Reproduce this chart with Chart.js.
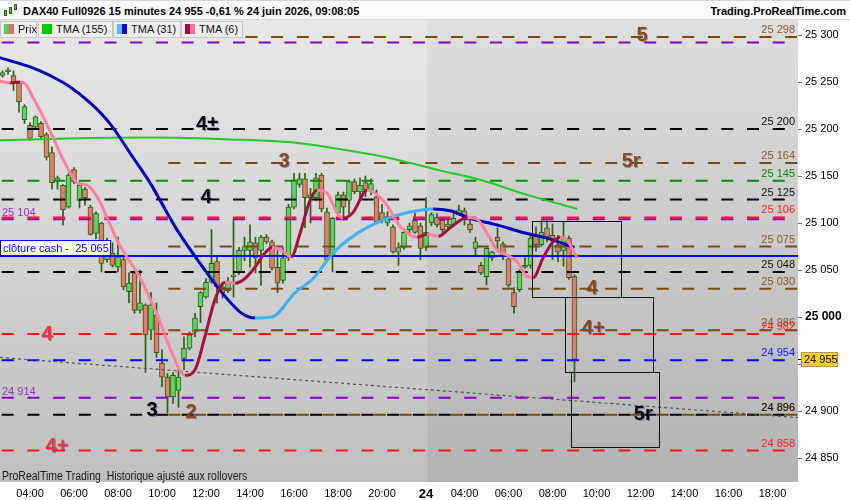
<!DOCTYPE html>
<html>
<head>
<meta charset="utf-8">
<script src="https://cdn.jsdelivr.net/npm/chart.js@4.4.1/dist/chart.umd.min.js"></script>
<style>
html, body { margin: 0; padding: 0; background: #fff; }
#wrap { position: relative; width: 850px; height: 500px; overflow: hidden; font-family: 'Liberation Sans', Arial, sans-serif; }
canvas { position: absolute; left: 0; top: 0; }
#head { position: absolute; left: 0; top: 0; width: 850px; height: 20px; background: #fbfbfb; border-top: 1px solid #d6d6d6; border-bottom: 1px solid #d6d6d6; box-sizing: border-box; }
#title { position: absolute; left: 23px; top: 2px; font-size: 11px; font-weight: bold; color: #000; line-height: 16px; white-space: pre; }
#site { position: absolute; right: 4px; top: 2px; font-size: 11px; font-weight: bold; color: #000; line-height: 16px; }
.ico { position: absolute; top: 5px; width: 3px; background: #4fc94f; border: 1px solid #2c5e14; box-sizing: border-box; }
.lg { position: absolute; top: 21px; height: 17px; box-sizing: border-box; border: 1px solid #c6c6c6; background: #eeeeee; font-size: 11px; line-height: 15px; color: #111; white-space: nowrap; }
.lg i { display: inline-block; width: 10px; height: 10px; margin: 0 4px 0 3px; vertical-align: -1px; }
#foot { position: absolute; left: 2px; top: 469px; font-size: 12px; color: #1a1a1a; white-space: pre; transform: scaleX(0.875); transform-origin: 0 0; }
</style>
</head>
<body>
<div id="wrap">
  <canvas id="chart" width="850" height="500"></canvas>
  <div id="head">
    <span class="ico" style="left:4px;top:9px;height:6px"></span>
    <span class="ico" style="left:9px;top:6px;height:7px"></span>
    <span class="ico" style="left:14px;top:3px;height:6px"></span>
    <span id="title">DAX40 Full0926 15 minutes 24 955 -0,61 % 24 juin 2026, 09:08:05</span>
    <span id="site">Trading.ProRealTime.com</span>
  </div>
  <div class="lg" style="left:0;width:37px"><i style="background:linear-gradient(90deg,#55cc55 50%,#e06a6a 50%)"></i>Prix</div>
  <div class="lg" style="left:38px;width:75px"><i style="background:#00cc00"></i>TMA (155)</div>
  <div class="lg" style="left:113px;width:68px"><i style="background:linear-gradient(90deg,#55bbff 50%,#0000cc 50%)"></i>TMA (31)</div>
  <div class="lg" style="left:181px;width:62px"><i style="background:linear-gradient(90deg,#99103a 50%,#ff6f99 50%)"></i>TMA (6)</div>
  <div id="foot">ProRealTime Trading  Historique ajusté aux rollovers</div>
</div>
<script>
// 15 min bars, index 0 = 23 juin 02:00, day 24 starts at bar 80
const firstBar = 3;
const opens = [
  25257, 25261, 25257, 25249, 25210, 25204, 25202, 25206, 25194, 25175,
  25145, 25140, 25117, 25157, 25124, 25136, 25117, 25089, 25100, 25061,
  25068, 25053, 25061, 25027, 25047, 25007, 25013, 24986, 25002, 24951,
  24936, 24915, 24922, 24956, 24967, 24984, 25011, 25021, 25037, 25059,
  25032, 25028, 25043, 25047, 25071, 25071, 25079, 25071, 25085, 25080,
  25053, 25039, 25063, 25117, 25141, 25147, 25127, 25127, 25151, 25112,
  25066, 25111, 25130, 25124, 25144, 25133, 25143, 25135, 25128, 25111,
  25100, 25096, 25069, 25074, 25093, 25103, 25097, 25074, 25100, 25106,
  25103, 25096, 25098, 25109, 25113, 25099, 25073, 25055, 25043, 25063,
  25085, 25078, 25062, 25026, 25029, 25053, 25055, 25087, 25077, 25095,
  25087, 25077, 25071, 25084, 25043
];
const highs = [
  25262, 25265, 25262, 25250, 25226, 25207, 25214, 25208, 25196, 25181,
  25150, 25141, 25153, 25159, 25143, 25138, 25119, 25112, 25101, 25084,
  25079, 25085, 25066, 25047, 25048, 25050, 25014, 25026, 25015, 24965,
  24940, 24941, 24947, 24979, 24984, 25004, 25027, 25041, 25093, 25064,
  25037, 25042, 25103, 25074, 25085, 25098, 25085, 25087, 25088, 25082,
  25074, 25074, 25120, 25153, 25153, 25153, 25137, 25153, 25153, 25116,
  25106, 25133, 25133, 25146, 25147, 25148, 25150, 25147, 25135, 25120,
  25112, 25098, 25079, 25092, 25100, 25111, 25100, 25127, 25111, 25110,
  25106, 25106, 25112, 25119, 25116, 25103, 25085, 25058, 25074, 25070,
  25095, 25080, 25063, 25031, 25050, 25063, 25087, 25096, 25103, 25103,
  25099, 25087, 25101, 25086, 25045
];
const lows = [
  25255, 25258, 25241, 25218, 25206, 25188, 25200, 25190, 25167, 25136,
  25136, 25098, 25116, 25142, 25116, 25119, 25087, 25083, 25048, 25058,
  25053, 25048, 25029, 25015, 25004, 25004, 24941, 24976, 24957, 24926,
  24898, 24908, 24904, 24944, 24965, 24979, 24994, 25020, 25036, 25015,
  25020, 25026, 25021, 25045, 25060, 25053, 25047, 25034, 25078, 25050,
  25026, 25036, 25060, 25115, 25138, 25095, 25100, 25124, 25112, 25059,
  25048, 25108, 25103, 25110, 25131, 25125, 25128, 25130, 25100, 25100,
  25097, 25068, 25055, 25072, 25089, 25089, 25061, 25071, 25097, 25096,
  25090, 25094, 25096, 25108, 25098, 25090, 25066, 25045, 25034, 25060,
  25071, 25061, 25032, 25004, 25027, 25052, 25052, 25070, 25075, 25080,
  25061, 25059, 25054, 25040, 24931
];
const closes = [
  25260, 25263, 25249, 25229, 25224, 25190, 25213, 25192, 25170, 25143,
  25148, 25114, 25151, 25144, 25140, 25127, 25088, 25110, 25057, 25077,
  25055, 25064, 25032, 25036, 25007, 25015, 24981, 25013, 24962, 24936,
  24915, 24938, 24936, 24967, 24981, 24999, 25026, 25037, 25057, 25032,
  25026, 25037, 25045, 25071, 25075, 25080, 25063, 25085, 25080, 25052,
  25036, 25063, 25117, 25146, 25147, 25127, 25130, 25148, 25115, 25061,
  25105, 25130, 25117, 25144, 25133, 25140, 25135, 25142, 25101, 25103,
  25107, 25069, 25074, 25090, 25097, 25090, 25073, 25090, 25109, 25098,
  25093, 25099, 25105, 25114, 25105, 25093, 25080, 25047, 25073, 25069,
  25081, 25064, 25034, 25011, 25049, 25055, 25084, 25077, 25090, 25085,
  25082, 25069, 25085, 25042, 24955
];

// moving averages (bar index, price)
const tma155Bars = [2.5, 14.7, 29.8, 44.4, 57, 64.9, 73.5, 82.5, 89.8, 98.4, 107.5];
const tma155 = [25188, 25190, 25191, 25189, 25185, 25178, 25169, 25156, 25146, 25130, 25115];
const tma31Bars = [2.5, 8.5, 11.6, 14.7, 18.9, 22.5, 26.7, 29.8, 34.7, 39.8, 42.9, 46.5, 48.9, 52,
  56.2, 59.5, 63.1, 67.5, 73.5, 78.4, 81.3, 84.4, 88, 92.9, 97.6, 102, 107];
const tma31 = [25276, 25265, 25257, 25247, 25228, 25206, 25170, 25143, 25093, 25050, 25026, 25004, 24999, 25000,
  25026, 25041, 25068, 25089, 25106, 25113, 25115, 25113, 25105, 25098, 25090, 25084, 25074];
const tma6Bars = [2.5, 4.4, 6.2, 7.3, 8.5, 10.4, 12.2, 13.5, 14.7, 16.5, 18.4, 20.2, 22, 23.8, 25.6, 27.5,
  29.3, 31.3, 33.8, 36.2, 38, 39.8, 41.6, 43.5, 45.3, 47.1, 48.9, 50.7, 52, 53.8, 55.5, 57.1, 58.9, 60.2,
  62, 63.8, 64.9, 66.7, 69.3, 70.4, 72.9, 74.7, 76.5, 78.4, 80.2, 82.3, 84.4, 87.5, 89.3, 91.6, 92.9,
  94.7, 96.5, 98.4, 99.5, 101.3, 103.1, 104.4, 105.6, 107.5];
const tma6 = [25251, 25249, 25250, 25247, 25234, 25213, 25191, 25174, 25160, 25143, 25140, 25128, 25106, 25082, 25064, 25047,
  25026, 25000, 24962, 24938, 24944, 24979, 25018, 25037, 25036, 25041, 25053, 25068, 25074, 25071, 25064, 25089, 25124, 25135,
  25132, 25111, 25105, 25111, 25135, 25133, 25119, 25101, 25090, 25085, 25088, 25086, 25095, 25106, 25104, 25084, 25071,
  25066, 25059, 25043, 25042, 25063, 25080, 25085, 25082, 25063];

// horizontal levels
const levelPrices = [25298, 25292, 25200, 25164, 25145, 25125, 25106, 25104, 25075, 25065,
  25048, 25030, 24986, 24982, 24954, 24914, 24896, 24896, 24858];
const levelKinds = ['brown', 'purple', 'black', 'brown', 'green', 'black', 'red', 'purple', 'brown', 'cash',
  'black', 'brown', 'brown', 'red', 'blue', 'purple', 'brown', 'black', 'red'];
const levelLabelSide = ['right', 'none', 'right', 'right', 'right', 'right', 'right', 'left', 'right', 'cash',
  'right', 'right', 'right', 'right', 'right', 'left', 'right', 'right', 'right'];
const cashText = 'clôture cash -  25 065';

// trend line end points (bar, price)
const trendBars = [2.55, 147.6];
const trendPrices = [24957, 24893];

// axis ticks
const xTickBars = [8, 16, 24, 32, 40, 48, 56, 64, 72, 80, 87, 95, 103, 111, 119, 127, 135, 143];
const xTickLabels = ['04:00', '06:00', '08:00', '10:00', '12:00', '14:00', '16:00', '18:00', '20:00', '24',
  '04:00', '06:00', '08:00', '10:00', '12:00', '14:00', '16:00', '18:00'];
const yTickValues = [24850, 24900, 24950, 25000, 25050, 25100, 25150, 25200, 25250, 25300];

// view
const xMin = 2.545, xMax = 147.64, yMin = 24824.5, yMax = 25316;
const dayBar = 80, daySplitBar = 80.2, brownStartBar = 33.15;
const FONT = "'Liberation Sans', Arial, sans-serif";

const lineColor = { brown: '#7b4a10', purple: '#8a00c8', black: '#000000', green: '#0a8a0a', red: '#ff1414', blue: '#0000ff', cash: '#0000ff' };
const textColor = { brown: '#8a5a26', purple: '#9a2ec4', black: '#111111', green: '#0a8a0a', red: '#ff2020', blue: '#1414ff', cash: '#0000ff' };

const bigLabels = [
  { t: '5', bar: 119.3, p: 25299, c: '#8b4a12' },
  { t: '4±', bar: 40.2, p: 25205, c: '#000' },
  { t: '4', bar: 40, p: 25127, c: '#000' },
  { t: '3', bar: 54.2, p: 25165, c: '#8b4a12' },
  { t: '5r', bar: 117.3, p: 25165, c: '#8b4a12' },
  { t: '4', bar: 11.1, p: 24981, c: '#ff3030' },
  { t: '4+', bar: 12.9, p: 24862, c: '#ff3030' },
  { t: '3', bar: 30.2, p: 24901, c: '#000' },
  { t: '2', bar: 37.3, p: 24898, c: '#8b4a12' },
  { t: '4', bar: 110.2, p: 25030, c: '#8b4a12' },
  { t: '4+', bar: 110.4, p: 24988, c: '#8b4a12' },
  { t: '5r', bar: 119.5, p: 24896, c: '#000' }
];
const zones = [
  { from: 99.3, to: 115.5, hi: 25102, lo: 25021 },
  { from: 105.3, to: 121.3, hi: 25021, lo: 24941 },
  { from: 106.4, to: 122.4, hi: 24941, lo: 24862 }
];

function fmt(v) {
  const r = Math.round(v);
  return Math.floor(r / 1000) + ' ' + String(r % 1000).padStart(3, '0');
}

const bars = opens.map((_, k) => firstBar + k);
const bodyData = bars.map((b, k) => ({ x: b, y: [opens[k], closes[k]] }));
const wickData = bars.map((b, k) => ({ x: b, y: [lows[k], highs[k]] }));
const bodyColors = bars.map((_, k) => closes[k] >= opens[k] ? '#5cd65c' : '#e77b6e');

const levelSets = levelPrices.map((p, k) => {
  const kind = levelKinds[k];
  const start = kind === 'brown' ? brownStartBar : xMin;
  return {
    type: 'line',
    data: [{ x: start, y: p }, { x: xMax, y: p }],
    borderColor: lineColor[kind],
    borderWidth: 2,
    borderDash: kind === 'cash' ? [] : [12, 13.7],
    borderDashOffset: kind === 'brown' ? 0 : -1.7,
    pointRadius: 0,
    order: 10
  };
});

function dirColor(up, down) {
  return c => c.p1.parsed.y >= c.p0.parsed.y ? up : down;
}

const bgPlugin = {
  id: 'bg',
  beforeDraw(chart) {
    const { ctx, chartArea: a, scales: { x } } = chart;
    const split = x.getPixelForValue(daySplitBar);
    ctx.save();
    let g = ctx.createLinearGradient(0, a.top, 0, a.bottom);
    g.addColorStop(0, '#e8e8e8');
    g.addColorStop(1, '#bfbfbf');
    ctx.fillStyle = g;
    ctx.fillRect(a.left, a.top, split - a.left, a.bottom - a.top);
    g = ctx.createLinearGradient(0, a.top, 0, a.bottom);
    g.addColorStop(0, '#dfdfdf');
    g.addColorStop(1, '#b3b3b3');
    ctx.fillStyle = g;
    ctx.fillRect(split, a.top, a.right - split, a.bottom - a.top);
    ctx.restore();
  },
  afterDatasetsDraw(chart) {
    const { ctx, chartArea: a, scales: { x, y } } = chart;
    ctx.save();
    ctx.beginPath();
    ctx.rect(a.left, a.top, a.right - a.left, a.bottom - a.top);
    ctx.clip();

    ctx.strokeStyle = '#111';
    ctx.lineWidth = 1;
    zones.forEach(z => {
      const x0 = Math.round(x.getPixelForValue(z.from)) + 0.5;
      const x1 = Math.round(x.getPixelForValue(z.to)) + 0.5;
      const y0 = Math.round(y.getPixelForValue(z.hi)) + 0.5;
      const y1 = Math.round(y.getPixelForValue(z.lo)) + 0.5;
      ctx.strokeRect(x0, y0, x1 - x0, y1 - y0);
    });

    ctx.font = '11px ' + FONT;
    ctx.textBaseline = 'alphabetic';
    levelPrices.forEach((p, k) => {
      const side = levelLabelSide[k];
      const py = y.getPixelForValue(p);
      ctx.fillStyle = textColor[levelKinds[k]];
      if (side === 'right') {
        ctx.textAlign = 'right';
        ctx.fillText(fmt(p), a.right - 3, py - 4);
      } else if (side === 'left') {
        ctx.textAlign = 'left';
        ctx.fillText(fmt(p), a.left + 2, py - 3);
      } else if (side === 'cash') {
        const top = Math.round(py) - 16;
        ctx.fillStyle = '#ffffff';
        ctx.fillRect(a.left, top, 111, 15);
        ctx.strokeStyle = '#0000ff';
        ctx.strokeRect(a.left + 0.5, top + 0.5, 110, 15);
        ctx.fillStyle = '#0000ff';
        ctx.textAlign = 'left';
        ctx.fillText(cashText, a.left + 3, py - 4);
      }
    });

    ctx.font = 'bold 20px ' + FONT;
    ctx.textAlign = 'center';
    ctx.textBaseline = 'middle';
    ctx.shadowColor = 'rgba(70,70,170,0.55)';
    ctx.shadowOffsetX = 1;
    ctx.shadowOffsetY = 1;
    bigLabels.forEach(l => {
      ctx.fillStyle = l.c;
      ctx.fillText(l.t, x.getPixelForValue(l.bar), y.getPixelForValue(l.p));
    });
    ctx.restore();
  },
  afterDraw(chart) {
    const { ctx, chartArea: a, scales: { y } } = chart;
    const last = closes[closes.length - 1];
    const py = Math.round(y.getPixelForValue(last));
    ctx.save();
    ctx.fillStyle = '#000';
    ctx.fillRect(a.right, py, 5, 1);
    ctx.fillStyle = '#ffd21a';
    ctx.fillRect(a.right + 3, py - 7, 37, 15);
    ctx.strokeStyle = '#a89a50';
    ctx.strokeRect(a.right + 3.5, py - 6.5, 36, 14);
    ctx.fillStyle = '#000';
    ctx.font = '11px ' + FONT;
    ctx.textAlign = 'left';
    ctx.textBaseline = 'middle';
    ctx.fillText(fmt(last), a.right + 6, py + 1);
    ctx.restore();
  }
};

new Chart(document.getElementById('chart'), {
  type: 'bar',
  data: {
    datasets: [
      {
        type: 'line', data: tma6Bars.map((b, k) => ({ x: b, y: tma6[k] })),
        borderWidth: 3, pointRadius: 0, cubicInterpolationMode: 'monotone',
        borderColor: '#ff7fa3', segment: { borderColor: dirColor('#a0143c', '#ff7fa3') }, order: 0
      },
      {
        type: 'line', data: tma31Bars.map((b, k) => ({ x: b, y: tma31[k] })),
        borderWidth: 3, pointRadius: 0, cubicInterpolationMode: 'monotone',
        borderColor: '#0000c0', segment: { borderColor: dirColor('#3cb4f5', '#0000c0') }, order: 1
      },
      {
        type: 'line', data: tma155Bars.map((b, k) => ({ x: b, y: tma155[k] })),
        borderWidth: 2, pointRadius: 0, cubicInterpolationMode: 'monotone',
        borderColor: '#22cc22', order: 2
      },
      {
        type: 'line', data: trendBars.map((b, k) => ({ x: b, y: trendPrices[k] })),
        borderWidth: 1.2, pointRadius: 0, borderColor: '#555', borderDash: [3, 3], order: 9
      },
      ...levelSets,
      {
        type: 'bar', data: bodyData, backgroundColor: bodyColors, borderColor: '#2c5e14',
        borderWidth: 1, borderSkipped: false, barThickness: 5, grouped: false, order: 20
      },
      {
        type: 'bar', data: wickData, backgroundColor: '#2c5e14',
        barThickness: 1, grouped: false, order: 21
      }
    ]
  },
  options: {
    responsive: false,
    animation: false,
    layout: { padding: { top: 20, left: 0, right: 0, bottom: 0 } },
    plugins: { legend: { display: false }, tooltip: { enabled: false } },
    scales: {
      x: {
        type: 'linear', min: xMin, max: xMax, offset: false,
        afterBuildTicks: s => { s.ticks = xTickBars.map(v => ({ value: v })); },
        afterFit: s => { s.height = 18; },
        grid: { display: false, drawTicks: false },
        border: { display: false },
        ticks: {
          autoSkip: false, maxRotation: 0, padding: 5, color: '#000',
          font: c => (c.tick && c.tick.value === dayBar) ? { family: FONT, size: 13, weight: 'bold' } : { family: FONT, size: 11 },
          callback: v => { const k = xTickBars.indexOf(v); return k < 0 ? '' : xTickLabels[k]; }
        }
      },
      y: {
        type: 'linear', position: 'right', min: yMin, max: yMax, beginAtZero: false,
        afterBuildTicks: s => { s.ticks = yTickValues.map(v => ({ value: v })); },
        afterFit: s => { s.width = 52; },
        grid: { drawOnChartArea: false, drawTicks: true, tickLength: 4, color: '#777' },
        border: { display: false },
        ticks: {
          padding: 3, color: '#000',
          font: c => (c.tick && c.tick.value === 25000) ? { family: FONT, size: 12, weight: 'bold' } : { family: FONT, size: 11 },
          callback: v => fmt(v)
        }
      }
    }
  },
  plugins: [bgPlugin]
});
</script>
</body>
</html>
